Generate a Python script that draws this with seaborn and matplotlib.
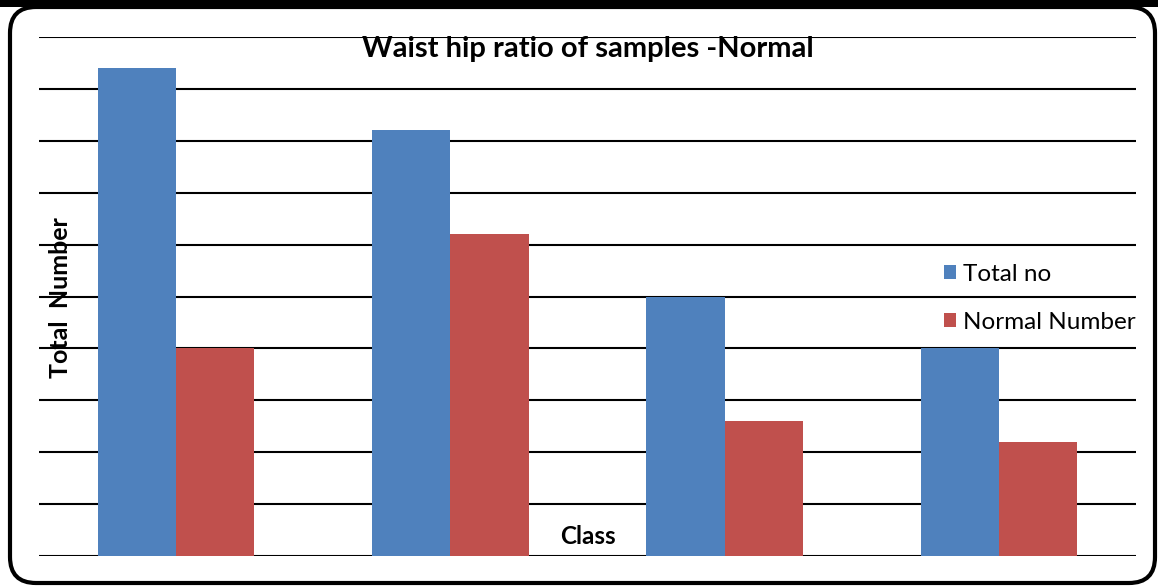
import matplotlib
matplotlib.use("Agg")
import matplotlib.pyplot as plt
from matplotlib.patches import FancyBboxPatch, Rectangle
from matplotlib.transforms import IdentityTransform
import seaborn as sns
import pandas as pd

# Waist-hip ratio counts per class
classes = ["Class 1", "Class 2", "Class 3", "Class 4"]
total_no = [47, 41, 25, 20]
normal_number = [20, 31, 13, 11]
series_names = ["Total no", "Normal Number"]
colors = ["#4F81BD", "#C0504D"]

df = pd.DataFrame({
    "Class": classes * 2,
    "Count": total_no + normal_number,
    "Series": [series_names[0]] * len(classes) + [series_names[1]] * len(classes),
})

sns.set_theme(style="white")
plt.rcParams["font.family"] = ["Lato", "DejaVu Sans"]
plt.rcParams["text.color"] = "black"
plt.rcParams["axes.labelcolor"] = "black"

W, H = 1158, 586
fig = plt.figure(figsize=(W / 100, H / 100), dpi=100)
ax = fig.add_axes([39 / W, 1 - 556 / H, (1136 - 39) / W, (556 - 37) / H])

sns.barplot(data=df, x="Class", y="Count", hue="Series", order=classes,
            hue_order=series_names, palette=colors, width=0.57, gap=0,
            saturation=1, edgecolor="none", ax=ax)

ax.set_xlim(-0.5, len(classes) - 0.5)
ax.set_ylim(0, 50)
ax.set_yticks(range(0, 51, 5))
ax.set_xticks([])
ax.tick_params(left=False, bottom=False, labelleft=False, labelbottom=False)
ax.yaxis.grid(True, color="black", linewidth=1.5)
ax.set_axisbelow(True)
for s in ax.spines.values():
    s.set_visible(False)

ax.set_title("Waist hip ratio of samples -Normal", fontsize=21, fontweight="bold",
             color="black", y=(556 - 57) / 519, pad=0)
ax.set_xlabel("Class", fontsize=17.5, fontweight="bold", va="center")
ax.xaxis.set_label_coords(0.5, (556 - 537) / 519)
ax.set_ylabel("Total  Number", fontsize=18, fontweight="bold", va="center", ha="center")
ax.yaxis.set_label_coords((61 - 39) / 1097, (556 - 298) / 519)

handles, labels = ax.get_legend_handles_labels()
ax.get_legend().remove()
fig.legend(handles, labels, loc="upper left", bbox_to_anchor=(944 / W, 1 - 264 / H),
           frameon=False, fontsize=17.5, borderpad=0, borderaxespad=0,
           handlelength=0.5, handleheight=0.5, handletextpad=0.3,
           labelspacing=1.1, labelcolor="black")

# rounded outer frame
fig.patches.append(FancyBboxPatch((10, 3), 1145, 576,
                                  boxstyle="round,pad=0,rounding_size=26",
                                  transform=IdentityTransform(), facecolor="none",
                                  edgecolor="black", linewidth=3, figure=fig))
fig.patches.append(Rectangle((0, H - 7), W, 7, transform=IdentityTransform(),
                             facecolor="black", edgecolor="none", figure=fig))

fig.savefig("out.png", dpi=100)
